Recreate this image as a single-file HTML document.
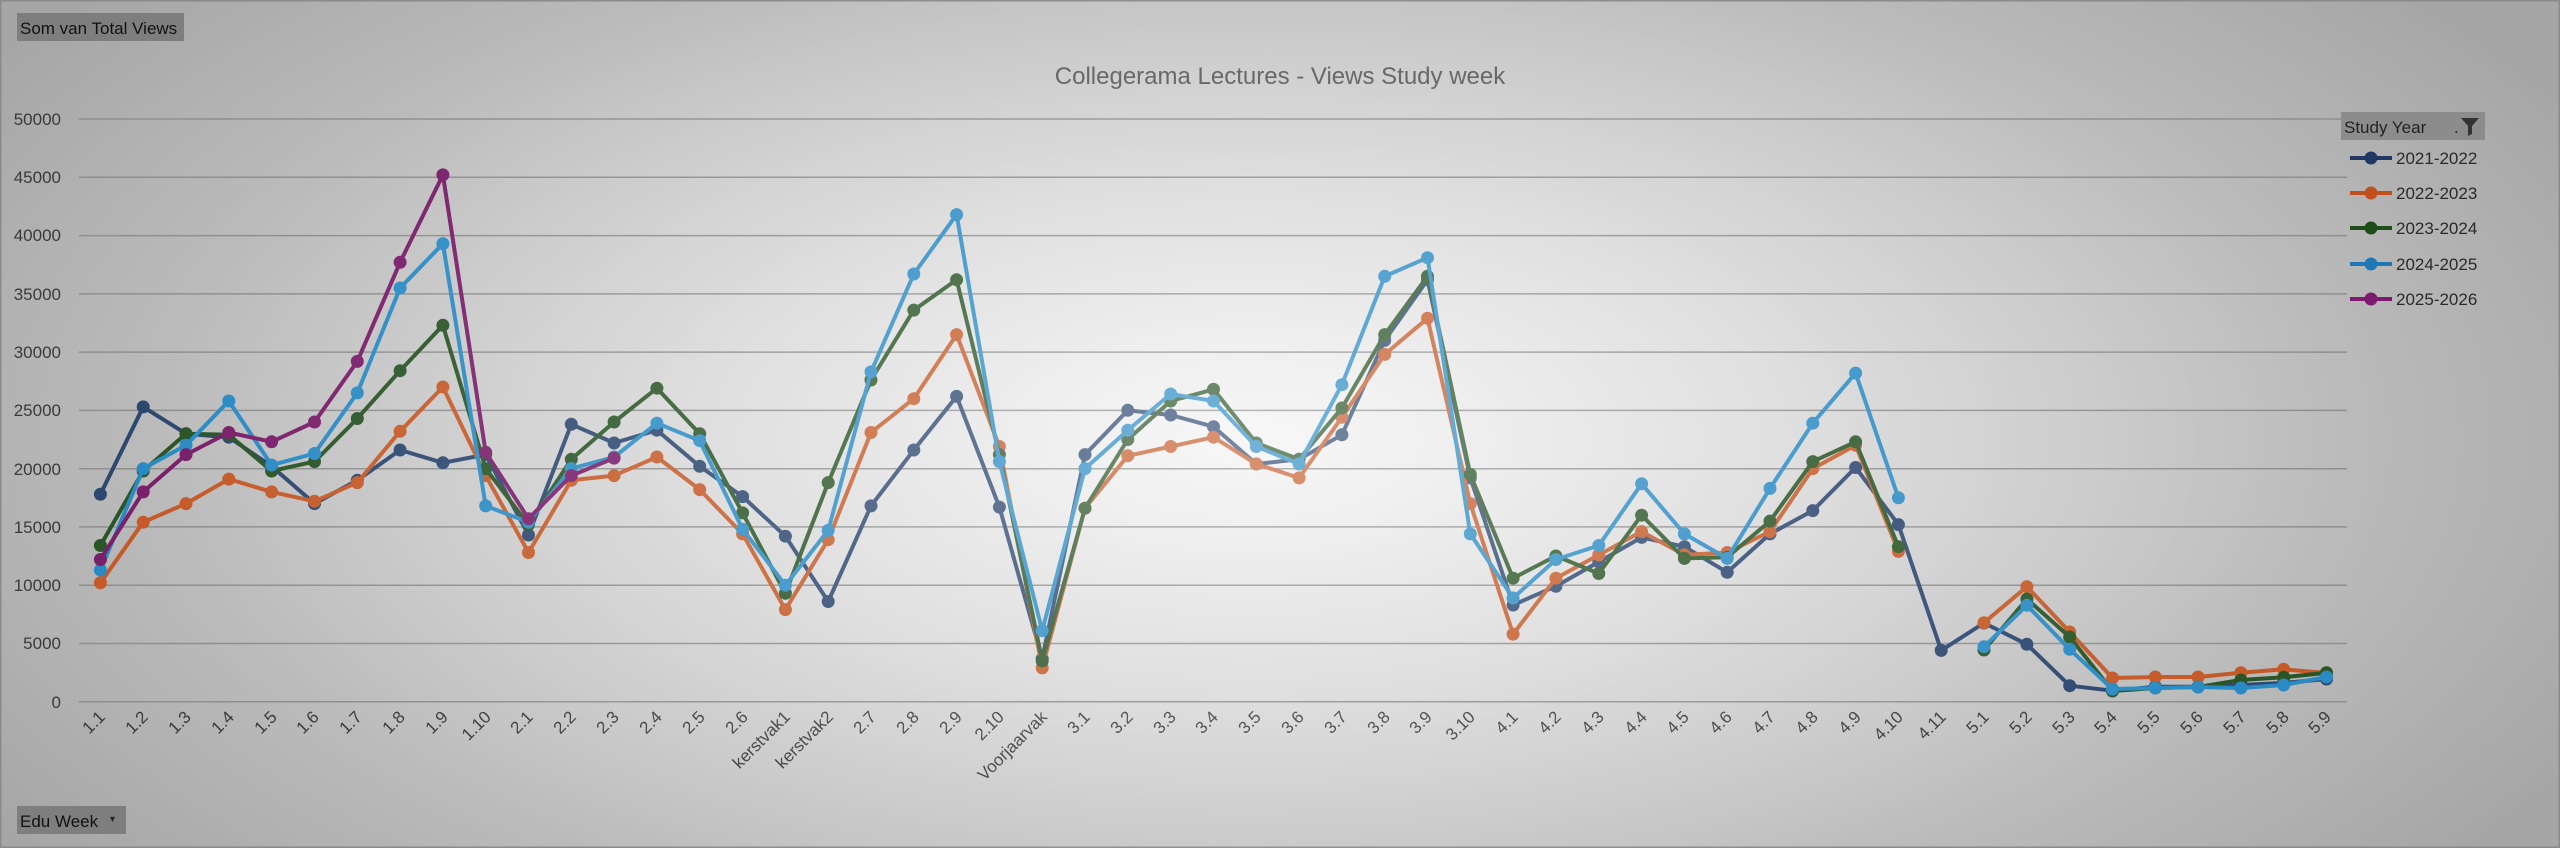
<!DOCTYPE html>
<html><head><meta charset="utf-8"><style>
html,body{margin:0;padding:0;}
body{width:2560px;height:848px;overflow:hidden;background:radial-gradient(ellipse 1500px 700px at 1250px 440px,#f3f3f3 0%,#dadada 35%,#bdbdbd 70%,#a6a6a6 100%);font-family:"Liberation Sans",sans-serif;position:relative;}
svg{position:absolute;left:0;top:0;}
.ov{position:absolute;left:0;top:0;width:2560px;height:848px;background:radial-gradient(ellipse 1100px 520px at 1250px 440px,rgba(255,255,255,0.35) 0%,rgba(255,255,255,0.15) 50%,rgba(255,255,255,0) 100%);pointer-events:none;}
</style></head><body>
<svg width="2560" height="848" viewBox="0 0 2560 848">
<defs>
<marker id="m1" markerUnits="userSpaceOnUse" markerWidth="16" markerHeight="16" refX="8" refY="8"><circle cx="8" cy="8" r="6.5" fill="#2c4770"/></marker>
<marker id="m2" markerUnits="userSpaceOnUse" markerWidth="16" markerHeight="16" refX="8" refY="8"><circle cx="8" cy="8" r="6.5" fill="#c55a28"/></marker>
<marker id="m3" markerUnits="userSpaceOnUse" markerWidth="16" markerHeight="16" refX="8" refY="8"><circle cx="8" cy="8" r="6.5" fill="#2a5526"/></marker>
<marker id="m4" markerUnits="userSpaceOnUse" markerWidth="16" markerHeight="16" refX="8" refY="8"><circle cx="8" cy="8" r="6.5" fill="#2a8bc4"/></marker>
<marker id="m5" markerUnits="userSpaceOnUse" markerWidth="16" markerHeight="16" refX="8" refY="8"><circle cx="8" cy="8" r="6.5" fill="#7a1f6a"/></marker>
</defs>
<rect x="0.5" y="0.5" width="2559" height="847" fill="none" stroke="#8a8a8a" stroke-width="2"/>
<!-- grid -->
<g stroke="#8f8f8f" stroke-width="1.5">
<line x1="79" y1="119" x2="2347" y2="119"/><line x1="79" y1="177.3" x2="2347" y2="177.3"/>
<line x1="79" y1="235.6" x2="2347" y2="235.6"/><line x1="79" y1="293.9" x2="2347" y2="293.9"/>
<line x1="79" y1="352.1" x2="2347" y2="352.1"/><line x1="79" y1="410.4" x2="2347" y2="410.4"/>
<line x1="79" y1="468.7" x2="2347" y2="468.7"/><line x1="79" y1="526.9" x2="2347" y2="526.9"/>
<line x1="79" y1="585.2" x2="2347" y2="585.2"/><line x1="79" y1="643.5" x2="2347" y2="643.5"/>
<line x1="79" y1="701.7" x2="2347" y2="701.7"/>
</g>
<g font-size="17" fill="#3a3a3a" text-anchor="end">
<text x="61" y="125">50000</text><text x="61" y="183">45000</text><text x="61" y="241">40000</text>
<text x="61" y="300">35000</text><text x="61" y="358">30000</text><text x="61" y="416">25000</text>
<text x="61" y="475">20000</text><text x="61" y="533">15000</text><text x="61" y="591">10000</text>
<text x="61" y="649">5000</text><text x="61" y="708">0</text>
</g>
<text x="1280" y="84" font-size="24" fill="#5a5a5a" text-anchor="middle">Collegerama Lectures - Views Study week</text>
<!-- x labels -->
<g font-size="17" fill="#3a3a3a" text-anchor="end">
<text transform="translate(106,718) rotate(-45)">1.1</text>
<text transform="translate(149,718) rotate(-45)">1.2</text>
<text transform="translate(192,718) rotate(-45)">1.3</text>
<text transform="translate(235,718) rotate(-45)">1.4</text>
<text transform="translate(278,718) rotate(-45)">1.5</text>
<text transform="translate(320,718) rotate(-45)">1.6</text>
<text transform="translate(363,718) rotate(-45)">1.7</text>
<text transform="translate(406,718) rotate(-45)">1.8</text>
<text transform="translate(449,718) rotate(-45)">1.9</text>
<text transform="translate(492,718) rotate(-45)">1.10</text>
<text transform="translate(534,718) rotate(-45)">2.1</text>
<text transform="translate(577,718) rotate(-45)">2.2</text>
<text transform="translate(620,718) rotate(-45)">2.3</text>
<text transform="translate(663,718) rotate(-45)">2.4</text>
<text transform="translate(706,718) rotate(-45)">2.5</text>
<text transform="translate(749,718) rotate(-45)">2.6</text>
<text transform="translate(791,718) rotate(-45)">kerstvak1</text>
<text transform="translate(834,718) rotate(-45)">kerstvak2</text>
<text transform="translate(877,718) rotate(-45)">2.7</text>
<text transform="translate(920,718) rotate(-45)">2.8</text>
<text transform="translate(963,718) rotate(-45)">2.9</text>
<text transform="translate(1005,718) rotate(-45)">2.10</text>
<text transform="translate(1048,718) rotate(-45)">Voorjaarvak</text>
<text transform="translate(1091,718) rotate(-45)">3.1</text>
<text transform="translate(1134,718) rotate(-45)">3.2</text>
<text transform="translate(1177,718) rotate(-45)">3.3</text>
<text transform="translate(1219,718) rotate(-45)">3.4</text>
<text transform="translate(1262,718) rotate(-45)">3.5</text>
<text transform="translate(1305,718) rotate(-45)">3.6</text>
<text transform="translate(1348,718) rotate(-45)">3.7</text>
<text transform="translate(1391,718) rotate(-45)">3.8</text>
<text transform="translate(1433,718) rotate(-45)">3.9</text>
<text transform="translate(1476,718) rotate(-45)">3.10</text>
<text transform="translate(1519,718) rotate(-45)">4.1</text>
<text transform="translate(1562,718) rotate(-45)">4.2</text>
<text transform="translate(1605,718) rotate(-45)">4.3</text>
<text transform="translate(1648,718) rotate(-45)">4.4</text>
<text transform="translate(1690,718) rotate(-45)">4.5</text>
<text transform="translate(1733,718) rotate(-45)">4.6</text>
<text transform="translate(1776,718) rotate(-45)">4.7</text>
<text transform="translate(1819,718) rotate(-45)">4.8</text>
<text transform="translate(1862,718) rotate(-45)">4.9</text>
<text transform="translate(1904,718) rotate(-45)">4.10</text>
<text transform="translate(1947,718) rotate(-45)">4.11</text>
<text transform="translate(1990,718) rotate(-45)">5.1</text>
<text transform="translate(2033,718) rotate(-45)">5.2</text>
<text transform="translate(2076,718) rotate(-45)">5.3</text>
<text transform="translate(2118,718) rotate(-45)">5.4</text>
<text transform="translate(2161,718) rotate(-45)">5.5</text>
<text transform="translate(2204,718) rotate(-45)">5.6</text>
<text transform="translate(2247,718) rotate(-45)">5.7</text>
<text transform="translate(2290,718) rotate(-45)">5.8</text>
<text transform="translate(2332,718) rotate(-45)">5.9</text>
</g>
<g fill="none" stroke-width="4" stroke-linejoin="round">
<polyline stroke="#2c4770" marker-start="url(#m1)" marker-mid="url(#m1)" marker-end="url(#m1)" points="100.4,494.3 143.2,406.9 186,433.7 228.8,437.2 271.6,466.3 314.5,503.6 357.3,480.3 400.1,450 442.9,462.8 485.7,454.6 528.5,535 571.3,424.3 614.1,443 656.9,430.2 699.7,466.3 742.6,496.6 785.4,536.2 828.2,601.5 871,505.9 913.8,450 956.6,396.4 999.4,507.1 1042.2,658.6 1085,454.6 1127.8,410.3 1170.7,415 1213.5,426.7 1256.3,464 1299.1,459.3 1341.9,434.8 1384.7,340.4 1427.5,279.8 1470.3,477.9 1513.1,605 1555.9,586.3 1598.8,561.9 1641.6,537.4 1684.4,546.7 1727.2,572.3 1770,533.9 1812.8,510.6 1855.6,467.5 1898.4,524.6 1941.2,650.4 1984,623 2026.9,644.3 2069.7,685.7 2112.5,690.7 2155.3,686.7 2198.1,686.7 2240.9,685 2283.7,683 2326.5,679"/>
<polyline stroke="#c55a28" marker-start="url(#m2)" marker-mid="url(#m2)" marker-end="url(#m2)" points="100.4,582.8 143.2,522.2 186,503.6 228.8,479.1 271.6,491.9 314.5,501.3 357.3,482.6 400.1,431.3 442.9,387 485.7,475.6 528.5,552.5 571.3,480.3 614.1,475.6 656.9,457 699.7,489.6 742.6,533.9 785.4,609.6 828.2,539.7 871,432.5 913.8,398.7 956.6,334.6 999.4,446.5 1042.2,667.9 1085,508.2 1127.8,455.8 1170.7,446.5 1213.5,437.2 1256.3,464 1299.1,477.9 1341.9,417.3 1384.7,354.4 1427.5,318.3 1470.3,503.6 1513.1,634.1 1555.9,578.2 1598.8,554.9 1641.6,531.6 1684.4,554.9 1727.2,552.5 1770,531.6 1812.8,468.6 1855.6,445.3 1898.4,551.4"/>
<polyline stroke="#c55a28" marker-start="url(#m2)" marker-mid="url(#m2)" marker-end="url(#m2)" points="1984,622.7 2026.9,586.7 2069.7,632 2112.5,678 2155.3,677 2198.1,677 2240.9,672.7 2283.7,669.3 2326.5,673"/>
<polyline stroke="#2a5526" marker-start="url(#m3)" marker-mid="url(#m3)" marker-end="url(#m3)" points="100.4,545.5 143.2,471 186,433.7 228.8,434.8 271.6,471 314.5,461.6 357.3,418.5 400.1,370.7 442.9,325.3 485.7,468.6 528.5,524.6 571.3,459.3 614.1,422 656.9,388.2 699.7,433.7 742.6,512.9 785.4,593.3 828.2,482.6 871,380 913.8,310.1 956.6,279.8 999.4,454.6 1042.2,660.9 1085,508.2 1127.8,439.5 1170.7,401 1213.5,389.4 1256.3,443 1299.1,459.3 1341.9,408 1384.7,334.6 1427.5,276.3 1470.3,474.4 1513.1,578.2 1555.9,556 1598.8,573.5 1641.6,515.2 1684.4,558.4 1727.2,557.2 1770,521.1 1812.8,461.6 1855.6,441.8 1898.4,546.7"/>
<polyline stroke="#2a5526" marker-start="url(#m3)" marker-mid="url(#m3)" marker-end="url(#m3)" points="1984,650 2026.9,599 2069.7,637 2112.5,691 2155.3,688 2198.1,687 2240.9,680 2283.7,677.3 2326.5,672.7"/>
<polyline stroke="#2a8bc4" marker-start="url(#m4)" marker-mid="url(#m4)" marker-end="url(#m4)" points="100.4,570 143.2,468.6 186,445.3 228.8,401 271.6,465.1 314.5,453.5 357.3,392.9 400.1,288 442.9,243.7 485.7,505.9 528.5,522.2 571.3,468.6 614.1,457 656.9,423.2 699.7,440.7 742.6,529.2 785.4,585.2 828.2,530.4 871,371.9 913.8,274 956.6,214.6 999.4,461.6 1042.2,630.6 1085,468.6 1127.8,430.2 1170.7,394 1213.5,401 1256.3,446.5 1299.1,464 1341.9,384.7 1384.7,276.3 1427.5,257.7 1470.3,533.9 1513.1,598 1555.9,559.5 1598.8,545.5 1641.6,483.8 1684.4,533.9 1727.2,558.4 1770,488.4 1812.8,423.2 1855.6,373.1 1898.4,497.8"/>
<polyline stroke="#2a8bc4" marker-start="url(#m4)" marker-mid="url(#m4)" marker-end="url(#m4)" points="1984,646.7 2026.9,605.3 2069.7,649.3 2112.5,689 2155.3,688 2198.1,687 2240.9,688 2283.7,685 2326.5,677"/>
<polyline stroke="#7a1f6a" marker-start="url(#m5)" marker-mid="url(#m5)" marker-end="url(#m5)" points="100.4,559.5 143.2,491.9 186,454.6 228.8,432.5 271.6,441.8 314.5,422 357.3,361.4 400.1,262.3 442.9,174.9 485.7,452.3 528.5,518.7 571.3,475.6 614.1,458.1"/>
</g>
<!-- legend -->
<rect x="2341" y="112" width="144" height="28" fill="#8c8c8c"/>
<text x="2344" y="133" font-size="17" fill="#222">Study Year</text>
<text x="2454" y="133" font-size="17" fill="#222">.</text>
<path d="M2461,118 h18 l-7,8 v8 l-4,2 v-10 z" fill="#333"/>
<g stroke-width="4">
<line x1="2350" y1="158" x2="2392" y2="158" stroke="#1f3864"/><circle cx="2371" cy="158" r="6.5" fill="#1f3864"/>
<line x1="2350" y1="193" x2="2392" y2="193" stroke="#c0501c"/><circle cx="2371" cy="193" r="6.5" fill="#c0501c"/>
<line x1="2350" y1="228" x2="2392" y2="228" stroke="#1e4d1a"/><circle cx="2371" cy="228" r="6.5" fill="#1e4d1a"/>
<line x1="2350" y1="264" x2="2392" y2="264" stroke="#1f78b4"/><circle cx="2371" cy="264" r="6.5" fill="#1f78b4"/>
<line x1="2350" y1="299" x2="2392" y2="299" stroke="#7b1a6e"/><circle cx="2371" cy="299" r="6.5" fill="#7b1a6e"/>
</g>
<g font-size="17" fill="#2a2a2a">
<text x="2396" y="164">2021-2022</text><text x="2396" y="199">2022-2023</text>
<text x="2396" y="234">2023-2024</text><text x="2396" y="270">2024-2025</text>
<text x="2396" y="305">2025-2026</text>
</g>
<!-- buttons -->
<rect x="17" y="13" width="167" height="28" fill="#7e7e7e"/>
<text x="20" y="34" font-size="17" fill="#111">Som van Total Views</text>
<rect x="17" y="806" width="109" height="28" fill="#7e7e7e"/>
<text x="20" y="827" font-size="17" fill="#111">Edu Week</text>
<text x="110" y="822" font-size="10" fill="#222">▾</text>
</svg>
<div class="ov"></div>
</body></html>
